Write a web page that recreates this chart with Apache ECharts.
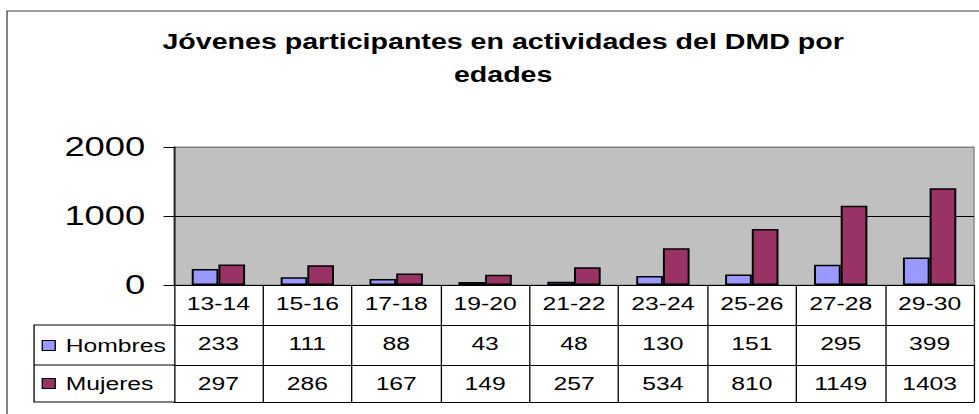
<!DOCTYPE html>
<html>
<head>
<meta charset="utf-8">
<script src="https://cdn.jsdelivr.net/npm/echarts@6/dist/echarts.min.js"></script>
<style>
  html, body { margin: 0; padding: 0; background: #fff; overflow: hidden; }
  /* the original Excel chart is stretched sideways, so draw narrow and widen */
  #main { width: 753px; height: 414px; transform: scaleX(1.30013); transform-origin: 0 0; }
</style>
</head>
<body>
<div id="main"></div>
<script>
var categories = ['13-14', '15-16', '17-18', '19-20', '21-22', '23-24', '25-26', '27-28', '29-30'];
var hombres = [233, 111, 88, 43, 48, 130, 151, 295, 399];
var mujeres = [297, 286, 167, 149, 257, 534, 810, 1149, 1403];
var yTicks = [0, 1000, 2000];

var font = 'Liberation Sans, Arial, sans-serif';
var myChart = echarts.init(document.getElementById('main'), null, { renderer: 'svg' });

// table rows under the plot, one x axis per row
function rowAxis(offset, values, showLabel) {
    return {
        type: 'category',
        data: categories,
        position: 'bottom',
        offset: offset,
        axisLine: { show: true, lineStyle: { color: '#000', width: 1 } },
        axisTick: { show: false },
        axisLabel: {
            show: showLabel,
            interval: 0,
            margin: 9,
            color: '#000',
            fontFamily: font,
            fontSize: 19,
            formatter: function (v, i) { return values ? String(values[i]) : v; }
        }
    };
}

var catAxis = rowAxis(0, null, true);
catAxis.axisTick = { show: true, interval: 0, length: 117, lineStyle: { color: '#000', width: 1 } };

option = {
    animation: false,
    title: {
        text: 'Jóvenes participantes en actividades del DMD por\nedades',
        left: 387,
        top: 25,
        textAlign: 'center',
        padding: 0,
        textStyle: {
            fontFamily: font,
            fontWeight: 'bold',
            fontSize: 22,
            lineHeight: 33,
            color: '#000'
        }
    },
    color: ['#9999FF', '#993366'],
    legend: {
        orient: 'vertical',
        left: 32,
        top: 336,
        itemWidth: 10,
        itemHeight: 10,
        itemGap: 19,
        padding: 0,
        icon: 'rect',
        itemStyle: { borderColor: '#000', borderWidth: 1 },
        textStyle: { fontFamily: font, fontSize: 19, color: '#000', padding: [0, 0, 0, 3] },
        data: ['Hombres', 'Mujeres']
    },
    grid: {
        left: 133.8,
        right: 3.8,
        top: 147,
        bottom: 129,
        show: true,
        backgroundColor: '#C0C0C0',
        borderColor: '#808080',
        borderWidth: 1
    },
    xAxis: [
        catAxis,
        rowAxis(40, hombres, true),
        rowAxis(80, mujeres, true),
        rowAxis(117, null, false)
    ],
    yAxis: {
        type: 'value',
        min: yTicks[0],
        max: yTicks[yTicks.length - 1],
        interval: 1000,
        axisLine: { show: true, lineStyle: { color: '#000', width: 1 } },
        axisTick: { show: true, length: 8, lineStyle: { color: '#000' } },
        axisLabel: {
            margin: 22, color: '#000', fontFamily: font, fontSize: 28,
            formatter: function (v) { return String(v); }
        },
        splitLine: { show: true, lineStyle: { color: ['#000', '#000', '#808080'], width: 1 } }
    },
    graphic: [
        // outer chart frame
        { type: 'rect', shape: { x: 5.4, y: 11, width: 900, height: 600 },
          style: { fill: 'none', stroke: '#404040', lineWidth: 1 }, silent: true },
        // legend column of the data table
        { type: 'polyline', shape: { points: [[133.8, 325], [26.2, 325], [26.2, 402], [133.8, 402]] },
          style: { fill: 'none', stroke: '#000', lineWidth: 1 }, silent: true },
        { type: 'line', shape: { x1: 26.2, y1: 365, x2: 133.8, y2: 365 },
          style: { stroke: '#000', lineWidth: 1 }, silent: true }
    ],
    series: [
        {
            name: 'Hombres',
            type: 'bar',
            barWidth: '30%',
            barGap: '0%',
            itemStyle: { borderColor: '#000', borderWidth: 1.5 },
            data: hombres
        },
        {
            name: 'Mujeres',
            type: 'bar',
            barWidth: '30%',
            barGap: '0%',
            itemStyle: { borderColor: '#000', borderWidth: 1.5 },
            data: mujeres
        }
    ]
};
myChart.setOption(option);
</script>
</body>
</html>
